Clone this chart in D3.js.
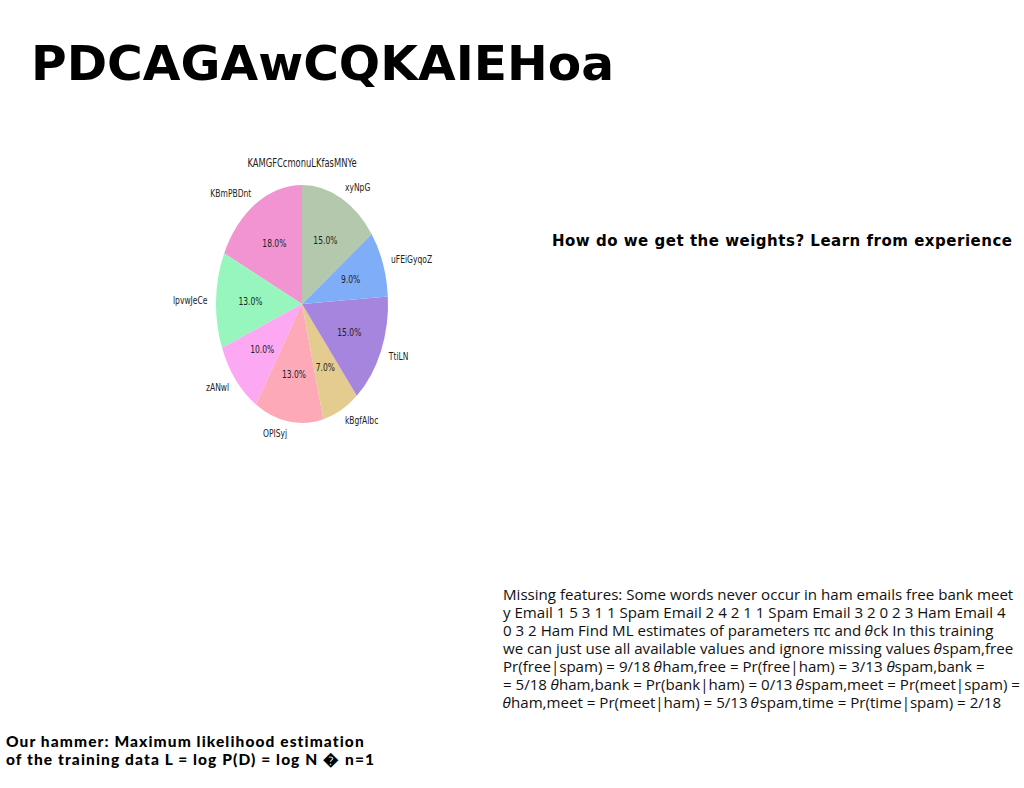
<!DOCTYPE html>
<html><head><meta charset="utf-8">
<script src="https://cdn.jsdelivr.net/npm/d3@7"></script>
<style>body{margin:0;background:#fff}</style>
</head><body>
<svg id="c" width="1024" height="788"></svg>
<script>
const labels = ["KBmPBDnt","lpvwJeCe","zANwl","OPISyj","kBgfAlbc","TtiLN","uFEiGyqoZ","xyNpG"];
const values = [18,13,10,13,7,15,9,15];
const colors = ["#f194d1","#96f6bd","#fda8f2","#fda9b8","#e4cc90","#a585de","#80adf8","#b4c8ad"];
const pieTitle = "KAMGFCcmonuLKfasMNYe";
const mainTitle = "PDCAGAwCQKAIEHoa";
const sideTitle = "How do we get the weights? Learn from experience";
const bodyLines = [
 "Missing features: Some words never occur in ham emails free bank meet",
 "y Email 1 5 3 1 1 Spam Email 2 4 2 1 1 Spam Email 3 2 0 2 3 Ham Email 4",
 "0 3 2 Ham Find ML estimates of parameters \u03c0c and \u{1D703}ck In this training",
 "we can just use all available values and ignore missing values \u{1D703}spam,free",
 "Pr(free|spam) = 9/18 \u{1D703}ham,free = Pr(free|ham) = 3/13 \u{1D703}spam,bank =",
 "= 5/18 \u{1D703}ham,bank = Pr(bank|ham) = 0/13 \u{1D703}spam,meet = Pr(meet|spam) =",
 "\u{1D703}ham,meet = Pr(meet|ham) = 5/13 \u{1D703}spam,time = Pr(time|spam) = 2/18"
];
const footLines = ["Our hammer: Maximum likelihood estimation","of the training data L = log P(D) = log N \uFFFD n=1"];

const svg = d3.select("#c");
svg.append("text").attr("x",31).attr("y",80).attr("font-family","DejaVu Sans").attr("font-weight","bold")
  .attr("font-size",48.7).attr("fill","#000").text(mainTitle);

// pie
const R = 119, sx = 86/119;
const g = svg.append("g").attr("transform",`translate(302,304) scale(${sx},1)`);
const pie = d3.pie().sort(null).value(d=>d)
  .startAngle(0).endAngle(-2*Math.PI);
const arcs = pie(values);
const arc = d3.arc().innerRadius(0).outerRadius(R);
g.selectAll("path").data(arcs).join("path").attr("d",arc).attr("fill",(d,i)=>colors[i]);
arcs.forEach((a,i)=>{
  const m = (a.startAngle+a.endAngle)/2;
  const x = Math.sin(m), y = -Math.cos(m);
  g.append("text").attr("x",0.6*R*x).attr("y",0.6*R*y).attr("dy","0.35em")
    .attr("text-anchor","middle").attr("font-family","DejaVu Sans").attr("font-size",10.5)
    .attr("fill","#222").text(values[i].toFixed(1)+"%");
  g.append("text").attr("x",1.1*R*x).attr("y",1.1*R*y).attr("dy","0.35em")
    .attr("text-anchor",x>0?"start":"end").attr("font-family","DejaVu Sans").attr("font-size",10.5)
    .attr("fill","#222").text(labels[i]);
});
g.append("text").attr("x",0).attr("y",-137).attr("text-anchor","middle")
  .attr("font-family","DejaVu Sans").attr("font-size",11.6).attr("fill","#222").text(pieTitle);

svg.append("text").attr("x",552).attr("y",246).attr("font-family","DejaVu Sans").attr("font-weight","bold")
  .attr("font-size",15).attr("textLength",460).attr("lengthAdjust","spacing").attr("fill","#000").text(sideTitle);

const body = svg.append("text").attr("font-family","Open Sans").attr("font-size",15.1).attr("fill","#111");
bodyLines.forEach((l,i)=>body.append("tspan").attr("x",503).attr("y",600+i*18).text(l));

const foot = svg.append("text").attr("font-family","Lato").attr("font-weight",900).attr("font-size",15.5)
  .attr("letter-spacing",1.1).attr("fill","#000");
footLines.forEach((l,i)=>foot.append("tspan").attr("x",6).attr("y",747+i*18).text(l));
</script>
</body></html>
